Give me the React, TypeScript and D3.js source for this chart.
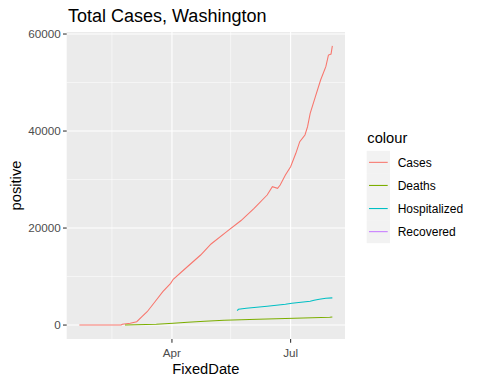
import React from "react";
import * as d3 from "d3";

const caseDates = ["2020-01-21","2020-02-22","2020-02-23","2020-02-29","2020-03-05","2020-03-09","2020-03-13","2020-03-19","2020-03-25","2020-03-31","2020-04-02","2020-04-10","2020-04-23","2020-05-01","2020-05-13","2020-05-24","2020-06-03","2020-06-13","2020-06-17","2020-06-21","2020-06-23","2020-06-27","2020-07-01","2020-07-05","2020-07-08","2020-07-12","2020-07-14","2020-07-16","2020-07-20","2020-07-24","2020-07-28","2020-07-30","2020-08-01","2020-08-02"];
const caseValues = [0,0,150,360,690,1720,2750,4810,6875,8605,9430,11350,14440,16710,19245,21550,24070,26810,28520,28190,28870,30935,32645,35405,37800,39180,40890,43650,47075,50520,53260,55670,55880,57540];

const deathDates = ["2020-02-25","2020-03-20","2020-04-02","2020-04-13","2020-04-26","2020-05-11","2020-06-06","2020-07-04","2020-07-31","2020-08-02"];
const deathValues = [0,180,360,570,770,980,1190,1400,1600,1650];

const hospDates = ["2020-05-21","2020-05-22","2020-05-28","2020-06-05","2020-06-13","2020-06-20","2020-06-27","2020-07-02","2020-07-09","2020-07-16","2020-07-19","2020-07-23","2020-07-28","2020-08-02"];
const hospValues = [2960,3250,3455,3660,3865,4070,4280,4485,4690,4895,5100,5310,5515,5600];

const recoveredDates: string[] = [];
const recoveredValues: number[] = [];

const seriesNames = ["Cases", "Deaths", "Hospitalized", "Recovered"];
const seriesColors = ["#F8766D", "#7CAE00", "#00BFC4", "#C77CFF"];

const yMajor = [0, 20000, 40000, 60000];
const yMinor = [10000, 30000, 50000];
const xMajorLabels = ["Apr", "Jul"];
const xMajorDates = ["2020-04-01", "2020-07-01"];
const xMinorDates = ["2020-02-15", "2020-05-16"];

const FONT = "'Liberation Sans', Arial, sans-serif";

export default function App() {
  const W = 480, H = 384;
  const L = 66.7, R = 345, T = 32, B = 339;
  const parse = (s: string) => new Date(s + "T00:00:00Z");

  const series = [
    { dates: caseDates, values: caseValues },
    { dates: deathDates, values: deathValues },
    { dates: hospDates, values: hospValues },
    { dates: recoveredDates, values: recoveredValues },
  ].map((s, i) => ({
    name: seriesNames[i],
    color: seriesColors[i],
    pts: s.dates.map((d, j) => ({ x: parse(d), y: s.values[j] })),
  }));

  const allPts = series.flatMap((s) => s.pts);
  const xExt = d3.extent(allPts, (p) => +p.x) as [number, number];
  const yExt = [0, d3.max(allPts, (p) => p.y) as number];
  const xPad = (xExt[1] - xExt[0]) * 0.05;
  const yPad = (yExt[1] - yExt[0]) * 0.05;
  const x = d3.scaleUtc().domain([new Date(xExt[0] - xPad), new Date(xExt[1] + xPad)]).range([L, R]);
  const y = d3.scaleLinear().domain([yExt[0] - yPad, yExt[1] + yPad]).range([B, T]);

  const line = d3.line<{ x: Date; y: number }>().x((p) => x(p.x)).y((p) => y(p.y));

  const legendX = 366.7;
  const legendTop = 150.8;
  const keyH = 23.1;
  const keyW = 23.3;

  return (
    <svg width={W} height={H} style={{ position: "absolute", left: 0, top: 0, background: "#fff" }} fontFamily={FONT}>
      <rect x={0} y={0} width={W} height={H} fill="#fff" />
      <rect x={L} y={T} width={R - L} height={B - T} fill="#EBEBEB" />
      {yMinor.map((v) => (
        <line key={"ym" + v} x1={L} x2={R} y1={y(v)} y2={y(v)} stroke="#fff" strokeWidth={0.53} />
      ))}
      {xMinorDates.map((d) => (
        <line key={"xm" + d} x1={x(parse(d))} x2={x(parse(d))} y1={T} y2={B} stroke="#fff" strokeWidth={0.53} />
      ))}
      {yMajor.map((v) => (
        <line key={"yM" + v} x1={L} x2={R} y1={y(v)} y2={y(v)} stroke="#fff" strokeWidth={1.07} />
      ))}
      {xMajorDates.map((d) => (
        <line key={"xM" + d} x1={x(parse(d))} x2={x(parse(d))} y1={T} y2={B} stroke="#fff" strokeWidth={1.07} />
      ))}
      {series.map((s) =>
        s.pts.length > 1 ? (
          <path key={s.name} d={line(s.pts) || ""} fill="none" stroke={s.color} strokeWidth={1.07} />
        ) : null
      )}
      {yMajor.map((v) => (
        <g key={"yt" + v}>
          <line x1={L - 3.7} x2={L} y1={y(v)} y2={y(v)} stroke="#333" strokeWidth={1.07} />
          <text x={L - 6} y={y(v)} dy="0.35em" textAnchor="end" fontSize={11.7} fill="#4D4D4D">
            {v}
          </text>
        </g>
      ))}
      {xMajorDates.map((d, i) => (
        <g key={"xt" + d}>
          <line x1={x(parse(d))} x2={x(parse(d))} y1={B} y2={B + 3.7} stroke="#333" strokeWidth={1.07} />
          <text x={x(parse(d))} y={356.7} textAnchor="middle" fontSize={11.7} fill="#4D4D4D">
            {xMajorLabels[i]}
          </text>
        </g>
      ))}
      <text x={(L + R) / 2} y={374} textAnchor="middle" fontSize={14.7} fill="#000">
        FixedDate
      </text>
      <text transform={`translate(20.8, ${(T + B) / 2}) rotate(-90)`} textAnchor="middle" fontSize={14.7} fill="#000">
        positive
      </text>
      <text x={68} y={21.7} fontSize={18} fill="#000">
        Total Cases, Washington
      </text>
      <text x={367.3} y={142.7} fontSize={14.7} fill="#000">
        colour
      </text>
      {seriesNames.map((n, i) => {
        const cy = legendTop + keyH * i + keyH / 2;
        return (
          <g key={"lg" + n}>
            <rect x={legendX} y={legendTop + keyH * i} width={keyW} height={keyH} fill="#F2F2F2" />
            <line x1={legendX + 2.3} x2={legendX + keyW - 2.3} y1={cy} y2={cy} stroke={seriesColors[i]} strokeWidth={1.07} />
            <text x={397.7} y={cy} dy="0.35em" fontSize={12} fill="#000">
              {n}
            </text>
          </g>
        );
      })}
    </svg>
  );
}
